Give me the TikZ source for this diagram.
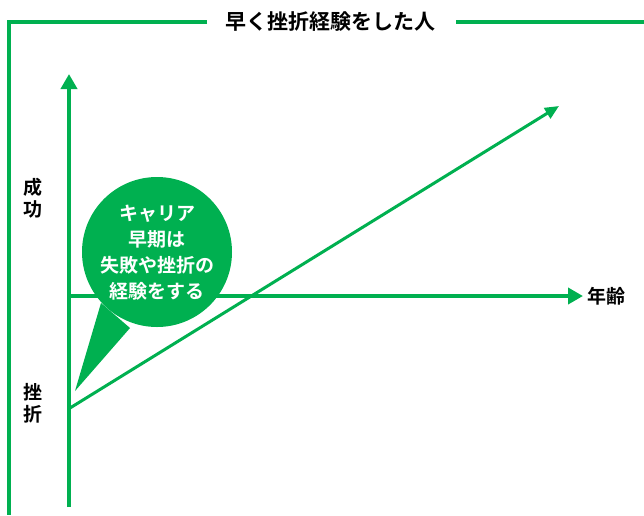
\documentclass[tikz,border=0pt]{standalone}
\usepackage{fontspec}
\setmainfont{Noto Sans CJK JP}[BoldFont={Noto Sans CJK JP Bold}]
\usetikzlibrary{arrows.meta}
\definecolor{grn}{RGB}{0,176,80}
\tikzset{
  frameline/.style={draw=grn,line width=4pt},
  axisline/.style={draw=grn,line width=4pt,-{Triangle[length=15pt,width=16pt]}},
  trendline/.style={draw=grn,line width=3pt,-{Triangle[length=14pt,width=12pt]}},
  lbl/.style={font=\fontsize{19}{21}\selectfont\bfseries,inner sep=0pt},
  bubtext/.style={font=\fontsize{19}{26}\selectfont\bfseries,text=white,align=center,inner sep=0pt},
}
\begin{document}
\begin{tikzpicture}[x=1pt,y=-1pt]
\useasboundingbox (0,0) rectangle (644,515);
% frame
\node[font=\fontsize{21}{23}\selectfont\bfseries,inner sep=0pt] (title) at (330,22) {早く挫折経験をした人};
\coordinate (fl) at (207,22);
\coordinate (fc) at (9,22);
\coordinate (fb) at (9,515);
\coordinate (fr1) at (456,22);
\coordinate (fr2) at (644,22);
\draw[frameline] (fl) -- (fc) -- (fb);
\draw[frameline] (fr1) -- (fr2);
% axes
\coordinate (o) at (69,296);
\coordinate (vb) at (69,507);
\coordinate (vt) at (69,74);
\coordinate (hl) at (67,296);
\coordinate (hr) at (583,296);
\draw[axisline] (vb) -- (vt);
\draw[axisline] (hl) -- (hr);
\node[lbl,anchor=west] (age) at (587,296) {年齢};
% trend
\coordinate (ts) at (70,408);
\coordinate (te) at (559,106);
\draw[trendline] (ts) -- (te);
% y labels
\node[lbl] (s1) at (33,187) {成};
\node[lbl] (s2) at (33,209) {功};
\node[lbl] (f1) at (33,392) {挫};
\node[lbl] (f2) at (33,414) {折};
% bubble
\coordinate (tip) at (75,391);
\coordinate (b1) at (101,303);
\coordinate (b2) at (130,328);
\fill[grn] (b1) -- (tip) -- (b2) -- cycle;
\fill[grn] (157,252) circle[radius=75];
\node[bubtext] (bub) at (157,253) {キャリア\\早期は\\失敗や挫折の\\経験をする};
\end{tikzpicture}
\end{document}
